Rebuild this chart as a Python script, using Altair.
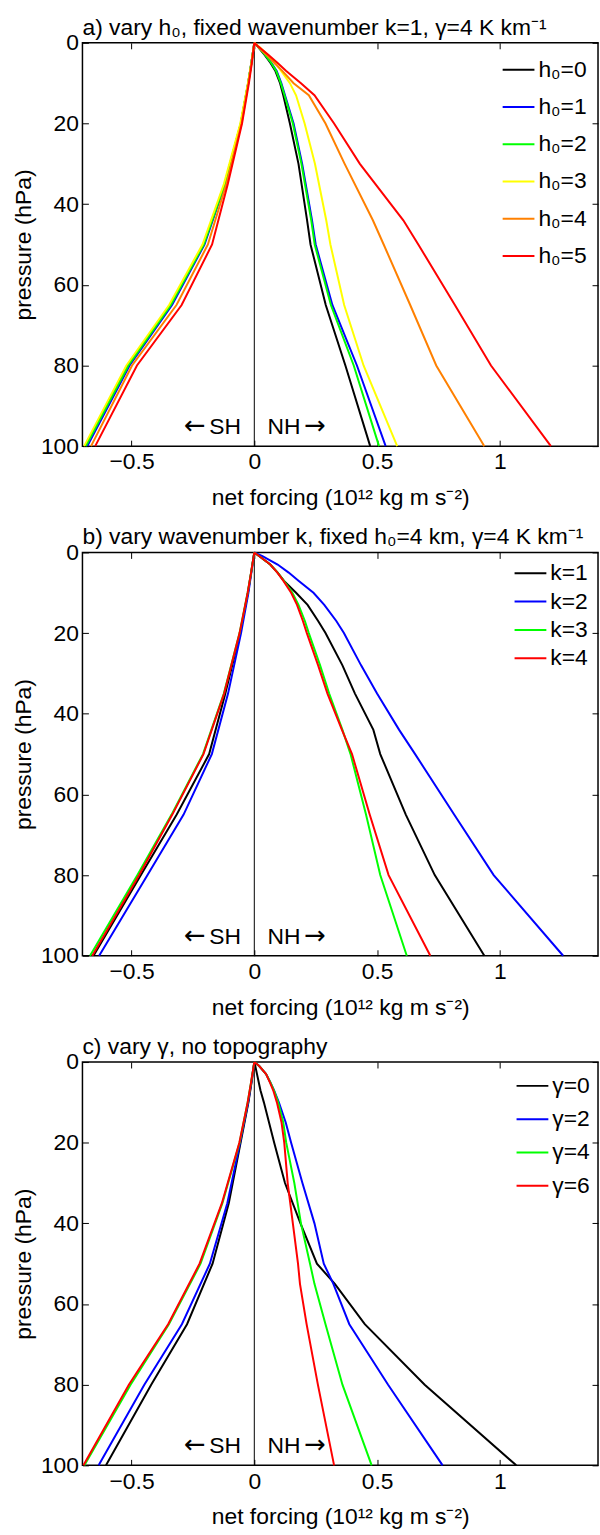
import altair as alt
import pandas as pd

# ---------------- Panel a: vary h0 ----------------
A_TITLE = "a) vary h₀, fixed wavenumber k=1, γ=4 K km⁻¹"
A_LABELS = ["h₀=0", "h₀=1", "h₀=2", "h₀=3", "h₀=4", "h₀=5"]
A_COLORS = ["#000000", "#0000ff", "#00ff00", "#ffff00", "#ff8000", "#ff0000"]
A_P_NH = [0, 1, 3, 5, 7, 10, 13, 20, 30, 44, 50, 65, 80, 100]
A_NH_0 = [0, 0.015, 0.042, 0.066, 0.086, 0.105, 0.118, 0.145, 0.180, 0.215, 0.229, 0.291, 0.371, 0.472]
A_NH_1 = [0, 0.016, 0.045, 0.070, 0.091, 0.110, 0.125, 0.160, 0.195, 0.235, 0.250, 0.318, 0.418, 0.535]
A_NH_2 = [0, 0.016, 0.044, 0.069, 0.089, 0.108, 0.123, 0.157, 0.192, 0.232, 0.246, 0.312, 0.405, 0.508]
A_NH_3 = [0, 0.020, 0.055, 0.085, 0.110, 0.145, 0.170, 0.205, 0.247, 0.293, 0.310, 0.366, 0.445, 0.582]
A_NH_4 = [0, 0.015, 0.050, 0.082, 0.115, 0.160, 0.222, 0.290, 0.368, 0.483, 0.527, 0.635, 0.741, 0.937]
A_NH_5 = [0, 0.018, 0.058, 0.095, 0.130, 0.190, 0.245, 0.325, 0.430, 0.607, 0.668, 0.817, 0.964, 1.208]
A_P_SH = [0, 5, 10, 20, 35, 50, 65, 80, 100]
A_SH_0 = [0, -0.012, -0.025, -0.055, -0.121, -0.207, -0.342, -0.516, -0.690]
A_SH_1 = [0, -0.012, -0.025, -0.054, -0.119, -0.203, -0.335, -0.508, -0.680]
A_SH_2 = [0, -0.012, -0.025, -0.055, -0.120, -0.206, -0.340, -0.513, -0.686]
A_SH_3 = [0, -0.012, -0.026, -0.057, -0.124, -0.211, -0.347, -0.521, -0.693]
A_SH_4 = [0, -0.011, -0.024, -0.052, -0.114, -0.189, -0.317, -0.498, -0.665]
A_SH_5 = [0, -0.010, -0.022, -0.050, -0.108, -0.172, -0.296, -0.478, -0.648]

# ---------------- Panel b: vary k ----------------
B_TITLE = "b) vary wavenumber k, fixed h₀=4 km, γ=4 K km⁻¹"
B_LABELS = ["k=1", "k=2", "k=3", "k=4"]
B_COLORS = ["#000000", "#0000ff", "#00ff00", "#ff0000"]
B_P_NH = [0, 1, 3, 5, 7, 10, 13, 17, 20, 28, 35, 44, 50, 65, 80, 100]
B_NH_1 = [0, 0.022, 0.065, 0.095, 0.120, 0.170, 0.217, 0.260, 0.290, 0.359, 0.410, 0.485, 0.513, 0.617, 0.735, 0.937]
B_NH_2 = [0, 0.035, 0.095, 0.140, 0.180, 0.241, 0.285, 0.334, 0.365, 0.435, 0.500, 0.590, 0.655, 0.814, 0.975, 1.258]
B_NH_3 = [0, 0.022, 0.065, 0.095, 0.120, 0.155, 0.180, 0.206, 0.222, 0.268, 0.305, 0.359, 0.392, 0.455, 0.513, 0.621]
B_NH_4 = [0, 0.022, 0.065, 0.094, 0.118, 0.150, 0.174, 0.198, 0.214, 0.260, 0.298, 0.357, 0.398, 0.470, 0.547, 0.717]
B_P_SH = [0, 5, 10, 20, 35, 50, 65, 80, 100]
B_SH_1 = [0, -0.013, -0.026, -0.058, -0.118, -0.184, -0.316, -0.462, -0.655]
B_SH_2 = [0, -0.012, -0.024, -0.054, -0.107, -0.173, -0.288, -0.435, -0.632]
B_SH_3 = [0, -0.013, -0.027, -0.060, -0.124, -0.209, -0.337, -0.476, -0.669]
B_SH_4 = [0, -0.013, -0.027, -0.060, -0.123, -0.207, -0.334, -0.469, -0.660]

# ---------------- Panel c: vary gamma ----------------
C_TITLE = "c) vary γ, no topography"
C_LABELS = ["γ=0", "γ=2", "γ=4", "γ=6"]
C_COLORS = ["#000000", "#0000ff", "#00ff00", "#ff0000"]
C_P_NH = [0, 1, 3, 5, 7, 10, 15, 20, 30, 40, 50, 55, 65, 80, 100]
C_NH_0 = [0, 0.004, 0.011, 0.018, 0.025, 0.039, 0.060, 0.081, 0.125, 0.188, 0.255, 0.328, 0.450, 0.694, 1.067]
C_NH_2 = [0, 0.020, 0.048, 0.065, 0.080, 0.100, 0.128, 0.150, 0.196, 0.245, 0.283, 0.322, 0.387, 0.545, 0.767]
C_NH_4 = [0, 0.020, 0.048, 0.065, 0.080, 0.097, 0.118, 0.130, 0.163, 0.190, 0.227, 0.245, 0.290, 0.359, 0.478]
C_NH_6 = [0, 0.020, 0.048, 0.063, 0.077, 0.092, 0.111, 0.122, 0.136, 0.157, 0.178, 0.186, 0.213, 0.259, 0.325]
C_P_SH = [0, 5, 10, 20, 35, 50, 65, 80, 100]
C_SH_0 = [0, -0.011, -0.024, -0.056, -0.104, -0.170, -0.274, -0.420, -0.604]
C_SH_2 = [0, -0.012, -0.025, -0.058, -0.110, -0.181, -0.295, -0.448, -0.634]
C_SH_4 = [0, -0.013, -0.027, -0.060, -0.130, -0.219, -0.348, -0.504, -0.692]
C_SH_6 = [0, -0.013, -0.027, -0.061, -0.132, -0.223, -0.351, -0.511, -0.696]

X_TICKS = [-0.5, 0, 0.5, 1]
Y_TICKS = [0, 20, 40, 60, 80, 100]
X_TITLE = "net forcing (10¹² kg m s⁻²)"
Y_TITLE = "pressure (hPa)"

FONT = "Liberation Sans"
FS = 23
TICK = 6
W, H = 519, 406


def build_df(labels, p_nh, nh_list, p_sh, sh_list):
    rows = []
    for lab, nh, sh in zip(labels, nh_list, sh_list):
        for p, v in zip(p_sh, sh):
            rows.append({"series": lab, "hemi": "SH", "p": p, "f": v})
        for p, v in zip(p_nh, nh):
            rows.append({"series": lab, "hemi": "NH", "p": p, "f": v})
    return pd.DataFrame(rows)


def panel(title, labels, colors, df, row_pad, leg_x, leg_y):
    xs = alt.Scale(domain=[-0.7, 1.4], nice=False, zero=False)
    ys = alt.Scale(domain=[0, 100], reverse=True, nice=False, zero=False)
    common_ax = dict(offset=-TICK, tickSize=TICK, domain=False, grid=False,
                     tickColor="black", tickWidth=1, labelFlush=False,
                     labelOverlap=False)
    x_bottom = alt.Axis(orient="bottom", title=X_TITLE, values=X_TICKS, format="~g",
                        labelPadding=5, titlePadding=13, **common_ax)
    y_left = alt.Axis(orient="left", title=Y_TITLE, values=Y_TICKS,
                      labelPadding=4, titlePadding=5, minExtent=0, **common_ax)
    x_top = alt.Axis(orient="top", values=X_TICKS, labels=False, title="",
                     minExtent=0, maxExtent=0, **common_ax)
    y_right = alt.Axis(orient="right", values=Y_TICKS, labels=False, title="",
                       minExtent=0, maxExtent=0, **common_ax)

    base = alt.Chart(df)
    lines = base.mark_line(strokeWidth=2).encode(
        x=alt.X("f:Q", scale=xs, axis=x_bottom),
        y=alt.Y("p:Q", scale=ys, axis=y_left),
        color=alt.Color("series:N", scale=alt.Scale(domain=labels, range=colors),
                        sort=labels,
                        legend=alt.Legend(orient="none", legendX=leg_x, legendY=leg_y,
                                          title=None,
                                          symbolType="stroke", symbolSize=1024,
                                          symbolStrokeWidth=2, labelFontSize=FS,
                                          labelFont=FONT, labelColor="black",
                                          labelOffset=3, rowPadding=row_pad,
                                          clipHeight=20, padding=0)),
        detail="hemi:N",
        order=alt.Order("p:Q"),
    )
    ghost = base.mark_point(opacity=0).encode(
        x=alt.X("f:Q", scale=xs, axis=x_top),
        y=alt.Y("p:Q", scale=ys, axis=y_right),
    )
    zero = alt.Chart().mark_rule(color="black", strokeWidth=1).encode(
        x=alt.X(datum=0, axis=None)
    )
    txt_kw = dict(baseline="alphabetic", fontSize=FS, font=FONT, color="black")
    arr_kw = dict(baseline="alphabetic", fontSize=26, font="DejaVu Sans", color="black")
    sh_txt = alt.Chart().mark_text(align="right", **txt_kw).encode(
        x=alt.X(datum=-0.054, axis=None), y=alt.Y(datum=97.0, axis=None),
        text=alt.value("SH"))
    sh_arr = alt.Chart().mark_text(align="right", **arr_kw).encode(
        x=alt.X(datum=-0.198, axis=None), y=alt.Y(datum=97.0, axis=None),
        text=alt.value("←"))
    nh_txt = alt.Chart().mark_text(align="left", **txt_kw).encode(
        x=alt.X(datum=0.054, axis=None), y=alt.Y(datum=97.0, axis=None),
        text=alt.value("NH"))
    nh_arr = alt.Chart().mark_text(align="left", **arr_kw).encode(
        x=alt.X(datum=0.203, axis=None), y=alt.Y(datum=97.0, axis=None),
        text=alt.value("→"))
    return alt.layer(zero, lines, ghost, sh_txt, sh_arr, nh_txt, nh_arr).resolve_axis(
        x="independent", y="independent"
    ).properties(
        width=W, height=H,
        title=alt.TitleParams(title, anchor="start", frame="group", fontSize=FS,
                              fontWeight="normal", font=FONT, color="black", offset=-8),
    )


df_a = build_df(A_LABELS, A_P_NH, [A_NH_0, A_NH_1, A_NH_2, A_NH_3, A_NH_4, A_NH_5],
                A_P_SH, [A_SH_0, A_SH_1, A_SH_2, A_SH_3, A_SH_4, A_SH_5])
df_b = build_df(B_LABELS, B_P_NH, [B_NH_1, B_NH_2, B_NH_3, B_NH_4],
                B_P_SH, [B_SH_1, B_SH_2, B_SH_3, B_SH_4])
df_c = build_df(C_LABELS, C_P_NH, [C_NH_0, C_NH_2, C_NH_4, C_NH_6],
                C_P_SH, [C_SH_0, C_SH_2, C_SH_4, C_SH_6])

pa = panel(A_TITLE, A_LABELS, A_COLORS, df_a, 14.5, 422, 17)
pb = panel(B_TITLE, B_LABELS, B_COLORS, df_b, 5.5, 434, 11)
pc = panel(C_TITLE, C_LABELS, C_COLORS, df_c, 10.5, 436, 14)

chart = alt.vconcat(pa, pb, pc, spacing=15).resolve_scale(color="independent").properties(
    padding={"left": 11, "top": 11, "right": 0, "bottom": 0}
).configure(font=FONT).configure_axis(
    labelFontSize=FS, titleFontSize=FS, labelFont=FONT, titleFont=FONT,
    labelColor="black", titleColor="black", titleFontWeight="normal"
).configure_view(stroke="black", strokeWidth=1.5)

chart.save("out.html", embed_options={"renderer": "svg", "actions": False})
